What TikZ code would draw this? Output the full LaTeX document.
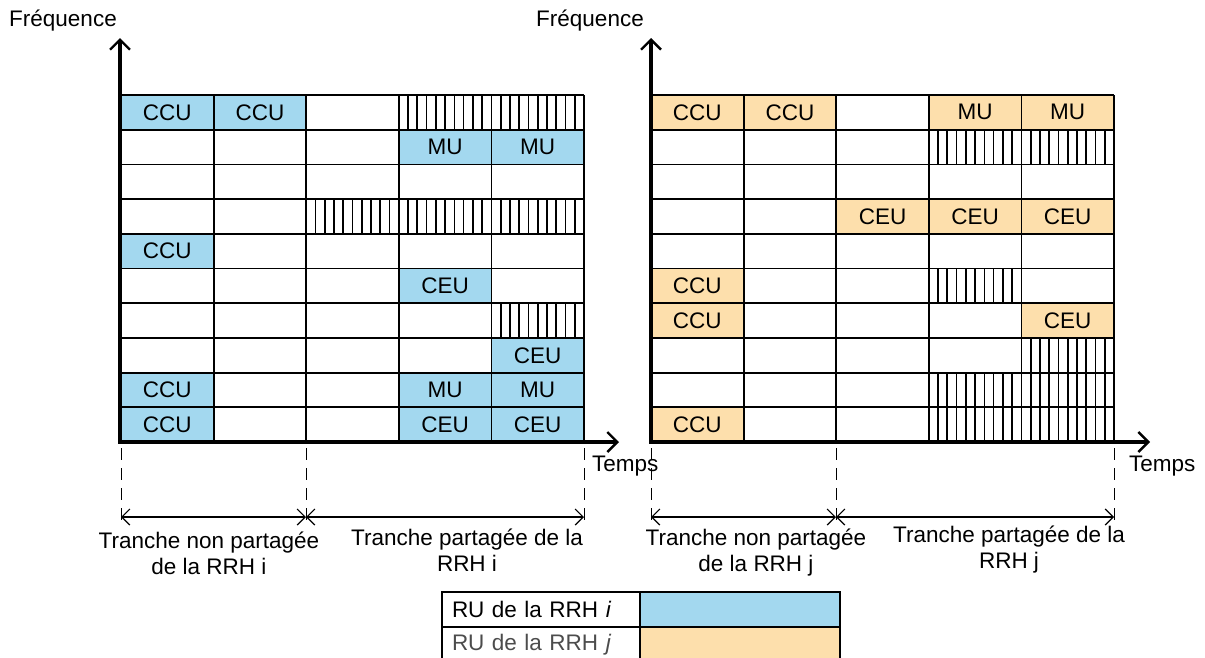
\documentclass[tikz,border=0pt]{standalone}
\usepackage{fontspec}
\setmainfont{Liberation Sans}
\usetikzlibrary{arrows.meta,positioning}
\definecolor{rrhi}{HTML}{A3D8EF}
\definecolor{rrhj}{HTML}{FDDFAC}
\newcommand{\cellw}{92.6}
\newcommand{\cellh}{34.7}

\begin{document}
\begin{tikzpicture}[x=1pt,y=-1pt,font=\fontsize{22.5}{26}\selectfont,
  ru/.style={inner sep=0pt},
  gridline/.style={line width=1.8pt},
  hatchline/.style={line width=1.7pt},
  axis/.style={line width=3.6pt,-{Straight Barb[length=10pt,width=20pt,line width=2.4pt]}},
  bound/.style={line width=0.9pt,dash pattern=on 12pt off 8pt},
  span/.style={line width=1.2pt,{Straight Barb[length=8pt,width=16pt]}-{Straight Barb[length=8pt,width=16pt]}},
  legcell/.style={draw,line width=2.6pt,minimum height=35pt,inner ysep=0pt}]
  \useasboundingbox (0,0) rectangle (1205,657);

  % RRH i
  \begin{scope}[shift={(121,95)}]
    \foreach \c/\r/\t in {1/1/CCU,2/1/CCU,4/2/MU,5/2/MU,1/5/CCU,4/6/CEU,5/8/CEU,1/9/CCU,4/9/MU,5/9/MU,1/10/CCU,4/10/CEU,5/10/CEU}{
      \fill[rrhi] ({(\c-1)*\cellw},{(\r-1)*\cellh}) rectangle ++(\cellw,\cellh);
      \node[ru] (i-\c-\r) at ({(\c-0.5)*\cellw},{(\r-0.5)*\cellh}) {\t};
    }
    \foreach \c/\r in {4/1,5/1,3/4,4/4,5/4,5/7}
      \foreach \k in {1,...,9}
        \draw[hatchline] ({(\c-1+\k/10)*\cellw},{(\r-1)*\cellh}) -- ++(0,\cellh);
    \foreach \c in {1,...,5}
      \draw[gridline] ({\c*\cellw},0) -- ({\c*\cellw},{10*\cellh});
    \foreach \r in {0,...,9}
      \draw[gridline] (0,{\r*\cellh}) -- ({5*\cellw},{\r*\cellh});
  \end{scope}

  % RRH j
  \begin{scope}[shift={(651,95)}]
    \foreach \c/\r/\t in {1/1/CCU,2/1/CCU,4/1/MU,5/1/MU,3/4/CEU,4/4/CEU,5/4/CEU,1/6/CCU,1/7/CCU,5/7/CEU,1/10/CCU}{
      \fill[rrhj] ({(\c-1)*\cellw},{(\r-1)*\cellh}) rectangle ++(\cellw,\cellh);
      \node[ru] (j-\c-\r) at ({(\c-0.5)*\cellw},{(\r-0.5)*\cellh}) {\t};
    }
    \foreach \c/\r in {4/2,5/2,4/6,5/8,4/9,5/9,4/10,5/10}
      \foreach \k in {1,...,9}
        \draw[hatchline] ({(\c-1+\k/10)*\cellw},{(\r-1)*\cellh}) -- ++(0,\cellh);
    \foreach \c in {1,...,5}
      \draw[gridline] ({\c*\cellw},0) -- ({\c*\cellw},{10*\cellh});
    \foreach \r in {0,...,9}
      \draw[gridline] (0,{\r*\cellh}) -- ({5*\cellw},{\r*\cellh});
  \end{scope}

  % axes
  \coordinate (i-o) at (120,442);
  \coordinate (i-y) at (120,38);
  \coordinate (i-x) at (619,442);
  \coordinate (j-o) at (651,442);
  \coordinate (j-y) at (651,38);
  \coordinate (j-x) at (1150,442);
  \draw[axis] ([yshift=-1.8pt]i-o) -- (i-y);
  \draw[axis] ([xshift=-1.8pt]i-o) -- (i-x);
  \draw[axis] ([yshift=-1.8pt]j-o) -- (j-y);
  \draw[axis] ([xshift=-1.8pt]j-o) -- (j-x);
  \node (i-freq) at (63,21) {Fréquence};
  \node (j-freq) at (590,21) {Fréquence};
  \node[anchor=west,inner sep=0pt] (i-temps) at (592,466) {Temps};
  \node[anchor=west,inner sep=0pt] (j-temps) at (1129,466) {Temps};

  % tranches
  \coordinate (i-t0) at (121,517);
  \coordinate (i-t1) at (306,517);
  \coordinate (i-t2) at (584,517);
  \coordinate (j-t0) at (651,517);
  \coordinate (j-t1) at (836,517);
  \coordinate (j-t2) at (1114,517);
  \foreach \p in {i-t0,i-t1,i-t2,j-t0,j-t1,j-t2}
    \draw[bound] ([yshift=69pt]\p) -- ([yshift=-5pt]\p);
  \draw[span] (i-t0) -- (i-t1);
  \draw[span] (i-t1) -- (i-t2);
  \draw[span] (j-t0) -- (j-t1);
  \draw[span] (j-t1) -- (j-t2);
  \node[align=center] (i-lab1) at (209,553) {Tranche non partagée\\de la RRH i};
  \node[align=center] (i-lab2) at (467,550) {Tranche partagée de la\\RRH i};
  \node[align=center] (j-lab1) at (756,553) {Tranche non partagée\\de la RRH j};
  \node[align=center] (j-lab2) at (1009,550) {Tranche partagée de la\\RRH j};

  % legende
  \node[legcell,minimum width=198pt,text width=178pt,inner xsep=10pt,align=left] (leg-i) at (541,609.5) {RU de la RRH \textit{i}};
  \node[legcell,minimum width=200pt,fill=rrhi] (leg-i-c) at (740,609.5) {};
  \node[legcell,minimum width=198pt,text width=178pt,inner xsep=10pt,align=left,text=black!70] (leg-j) at (541,644.5) {RU de la RRH \textit{j}};
  \node[legcell,minimum width=200pt,fill=rrhj] (leg-j-c) at (740,644.5) {};
\end{tikzpicture}
\end{document}
